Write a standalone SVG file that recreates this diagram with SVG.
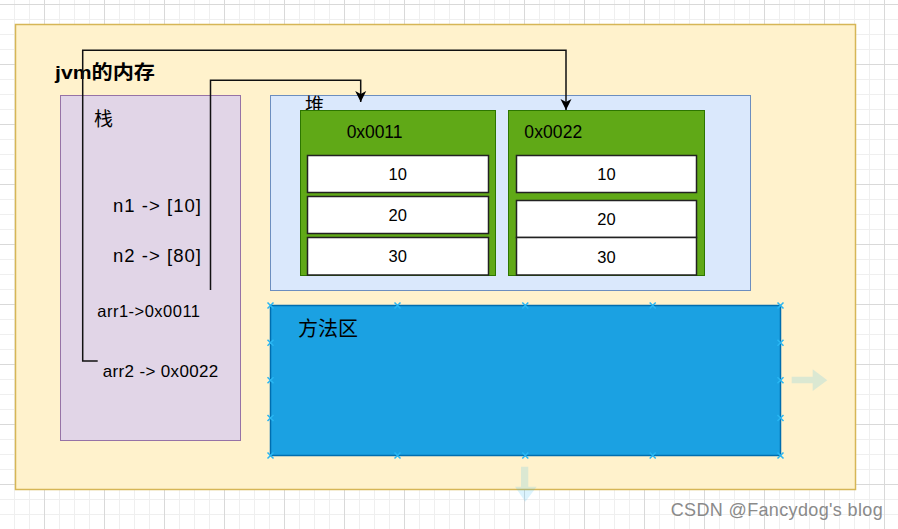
<svg xmlns="http://www.w3.org/2000/svg" width="898" height="529" viewBox="0 0 898 529">
  <defs>
    <pattern id="grid" x="44" y="4" width="60" height="60" patternUnits="userSpaceOnUse">
      <path d="M15.5,0V60M30.5,0V60M45.5,0V60M0,15.5H60M0,30.5H60M0,45.5H60" stroke="#efefef" stroke-width="1" fill="none"/>
      <path d="M0.5,0V60M0,0.5H60" stroke="#d9d9d9" stroke-width="1" fill="none"/>
    </pattern>
    <marker id="arr" viewBox="-13 -7 14 14" refX="0" refY="0" markerWidth="14" markerHeight="14" markerUnits="userSpaceOnUse" orient="auto">
      <path d="M0,0 L-11,-5.5 L-8,0 L-11,5.5 Z" fill="#000"/>
    </marker>
    <path id="xm" d="M-3,-3L3,3M-3,3L3,-3" stroke="#29b6f2" stroke-width="1.5" fill="none"/>
  </defs>
  <style>
    .t { font-family: "Liberation Sans", "Noto Sans CJK SC", sans-serif; fill: #000; }
    .cjk { font-family: "Noto Sans CJK SC", "Liberation Sans", sans-serif; fill: #000; }
    .cell { fill: #fff; stroke: #222; stroke-width: 1.5; }
    .green { fill: #60a917; stroke: #2d7600; stroke-width: 1; }
    .num { font-family: "Liberation Sans", sans-serif; font-size: 16.5px; text-anchor: middle; fill: #000; }
    .conn { fill: none; stroke: #111; stroke-width: 1.5; }
  </style>

  <rect x="0" y="0" width="898" height="529" fill="#fff"/>
  <rect x="0" y="0" width="898" height="529" fill="url(#grid)"/>

  <g id="jvm">
    <rect x="15.5" y="24.5" width="840" height="465" fill="#fff2cc" stroke="#d6b656" stroke-width="1.5"/>
    <text class="t" x="55" y="79" font-size="19" font-weight="bold" textLength="100" lengthAdjust="spacingAndGlyphs">jvm的内存</text>
  </g>

  <g id="stack">
    <rect x="60.5" y="95.5" width="180" height="345" fill="#e1d5e7" stroke="#9673a6" stroke-width="1"/>
    <text class="cjk" x="94" y="126" font-size="19">栈</text>
    <text class="t" x="113" y="211.5" font-size="18.5" textLength="88">n1 -&gt; [10]</text>
    <text class="t" x="113" y="262.3" font-size="18.5" textLength="88">n2 -&gt; [80]</text>
    <text class="t" x="97.3" y="316.7" font-size="16.5" textLength="102.7">arr1-&gt;0x0011</text>
    <text class="t" x="102.7" y="377.3" font-size="17" textLength="115.6">arr2 -&gt; 0x0022</text>
  </g>

  <g id="heap">
    <rect x="270.5" y="95.5" width="480" height="195" fill="#dae8fc" stroke="#6c8ebf" stroke-width="1"/>
    <text class="cjk" x="305" y="112" font-size="19">堆</text>
  </g>

  <g id="arr1">
    <rect class="green" x="300.5" y="110.5" width="195" height="165"/>
    <text class="t" x="346.7" y="137.7" font-size="17.5" textLength="55.7">0x0011</text>
    <rect class="cell" x="307.5" y="155.5" width="181" height="37"/>
    <text class="num" x="397.8" y="180">10</text>
    <rect class="cell" x="307.5" y="196.5" width="181" height="37"/>
    <text class="num" x="397.8" y="221">20</text>
    <rect class="cell" x="307.5" y="237.5" width="181" height="37.5"/>
    <text class="num" x="397.8" y="262.3">30</text>
  </g>

  <g id="arr2">
    <rect class="green" x="508.5" y="110.5" width="196" height="165"/>
    <text class="t" x="524.3" y="137.7" font-size="17.5" textLength="58">0x0022</text>
    <rect class="cell" x="516.5" y="155.5" width="180" height="37"/>
    <text class="num" x="606.5" y="180">10</text>
    <rect class="cell" x="516.5" y="200.5" width="180" height="37"/>
    <text class="num" x="606.5" y="225">20</text>
    <rect class="cell" x="516.5" y="237.5" width="180" height="37.5"/>
    <text class="num" x="606.5" y="262.7">30</text>
  </g>

  <g id="method">
    <rect x="270.5" y="305.5" width="510" height="150" fill="#1ba1e2" stroke="#006eaf" stroke-width="1.5"/>
    <text class="cjk" x="298" y="336" font-size="20">方法区</text>
    <use href="#xm" x="270.5" y="305.5"/>
    <use href="#xm" x="397.5" y="305.5"/>
    <use href="#xm" x="525.3" y="305.5"/>
    <use href="#xm" x="652.7" y="305.5"/>
    <use href="#xm" x="780.5" y="305.5"/>
    <use href="#xm" x="270.5" y="455.5"/>
    <use href="#xm" x="397.5" y="455.5"/>
    <use href="#xm" x="525.3" y="455.5"/>
    <use href="#xm" x="652.7" y="455.5"/>
    <use href="#xm" x="780.5" y="455.5"/>
    <use href="#xm" x="270.5" y="342.8"/>
    <use href="#xm" x="270.5" y="380.3"/>
    <use href="#xm" x="270.5" y="418"/>
    <use href="#xm" x="780.5" y="342.8"/>
    <use href="#xm" x="780.5" y="380.3"/>
    <use href="#xm" x="780.5" y="418"/>
    <path d="M791.7,376.7H812.7V369.3L827.3,380.2L812.7,391V383.3H791.7Z" fill="#29b6f2" fill-opacity="0.17"/>
    <path d="M521,466.7H528.3V486.7H536.7L525.3,501.7L515,486.7H521Z" fill="#29b6f2" fill-opacity="0.17"/>
  </g>

  <g id="connectors">
    <path class="conn" d="M97.7,361H82.7V50.3H566V110" marker-end="url(#arr)"/>
    <path class="conn" d="M210.5,290V80.3H360.7V102" marker-end="url(#arr)"/>
  </g>

  <text class="t" x="670.7" y="515.7" font-size="18" textLength="212" style="fill:#8a8a8a">CSDN @Fancydog's blog</text>
</svg>
